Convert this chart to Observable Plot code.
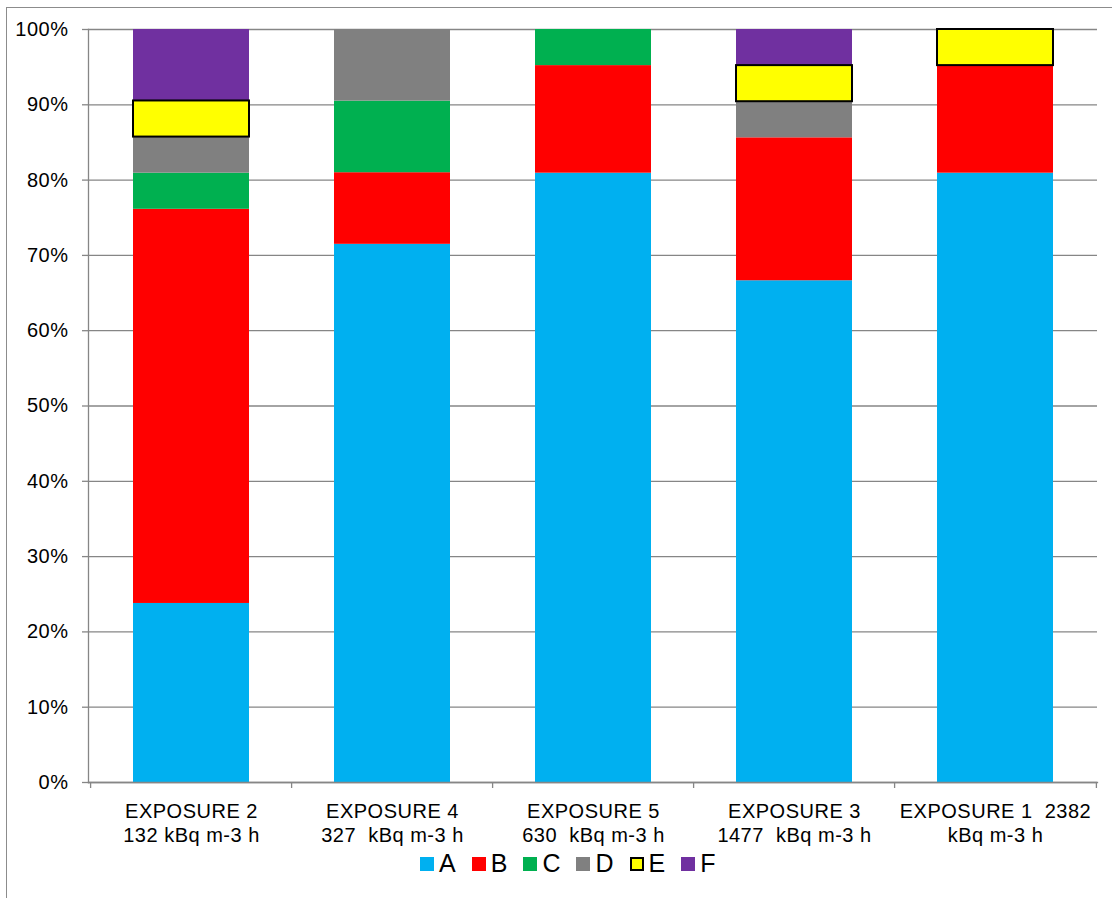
<!DOCTYPE html>
<html>
<head>
<meta charset="utf-8">
<script src="https://cdn.jsdelivr.net/npm/d3@7"></script>
<script src="https://cdn.jsdelivr.net/npm/@observablehq/plot@0.6"></script>
<style>
  html, body { margin: 0; padding: 0; background: #fff; }
  body { font-family: "Liberation Sans", Arial, sans-serif; width: 1112px; height: 898px; position: relative; overflow: hidden; }
  #frame { position: absolute; left: 6px; top: 7px; width: 1200px; height: 950px; border: 1px solid #8c8c8c; box-sizing: border-box; pointer-events: none; }
  #chart { position: absolute; left: 0; top: 0; }
  #chart svg { overflow: visible; white-space: pre; }
  #legend { position: absolute; top: 849px; left: 420px; display: flex; align-items: center; font-size: 25px; color: #000; }
  .item { display: flex; align-items: center; margin-right: 16px; }
  .sw { width: 14px; height: 14px; margin-right: 5px; box-sizing: border-box; }
</style>
</head>
<body>
<div id="chart"></div>
<div id="legend"></div>
<div id="frame"></div>
<script>
// Categories (x axis) and their two-line tick labels
const categories = ["EXPOSURE 2", "EXPOSURE 4", "EXPOSURE 5", "EXPOSURE 3", "EXPOSURE 1"];
const tickLabels = [
  "EXPOSURE 2\n132 kBq m-3 h",
  "EXPOSURE 4\n327  kBq m-3 h",
  "EXPOSURE 5\n630  kBq m-3 h",
  "EXPOSURE 3\n1477  kBq m-3 h",
  "EXPOSURE 1  2382\nkBq m-3 h"
];
// Series (stack order bottom to top) and their colours
const series = ["A", "B", "C", "D", "E", "F"];
const seriesColors = ["#00B0F0", "#FF0000", "#00B050", "#808080", "#FFFF00", "#7030A0"];
// Percent values per series, in category order
const valuesA = [23.8, 71.4, 81.0, 66.7, 81.0];
const valuesB = [52.4, 9.5, 14.3, 19.0, 14.3];
const valuesC = [4.8, 9.5, 4.8, 0, 0];
const valuesD = [4.8, 9.5, 0, 4.8, 0];
const valuesE = [4.8, 0, 0, 4.8, 4.8];
const valuesF = [9.5, 0, 0, 4.8, 0];
const yTicks = [0, 0.1, 0.2, 0.3, 0.4, 0.5, 0.6, 0.7, 0.8, 0.9, 1.0];

const allValues = [valuesA, valuesB, valuesC, valuesD, valuesE, valuesF];
const data = [];
series.forEach((s, si) => {
  categories.forEach((c, ci) => {
    const v = allValues[si][ci];
    if (v > 0) data.push({category: c, series: s, value: v});
  });
});
const labelOf = new Map(categories.map((c, i) => [c, tickLabels[i]]));

const W = 1112, H = 845;
const mL = 88, mR = 15, mT = 29, mB = 63;
const step = (W - mL - mR) / categories.length;
const grey = "#868686";
const font = "Liberation Sans, Arial, sans-serif";

const stackOpts = {x: "category", y: "value", order: null, offset: "normalize"};

const chart = Plot.plot({
  width: W,
  height: H,
  marginLeft: mL,
  marginRight: mR,
  marginTop: mT,
  marginBottom: mB,
  style: {fontFamily: font, background: "transparent", color: "#000"},
  x: {domain: categories, paddingInner: 0.425, paddingOuter: 0.2125, axis: null, label: null},
  y: {domain: [0, 1], axis: null, label: null},
  color: {domain: series, range: seriesColors},
  marks: [
    Plot.gridY(yTicks, {stroke: grey, strokeOpacity: 1, strokeWidth: 1.3}),
    Plot.barY(data, Plot.stackY({...stackOpts, fill: "series"})),
    Plot.barY(data, Plot.stackY({...stackOpts, fill: "none", stroke: "#000", strokeWidth: 2,
      strokeOpacity: d => d.series === "E" ? 1 : 0})),
    Plot.frame({anchor: "left", stroke: grey, strokeWidth: 1.3}),
    Plot.frame({anchor: "bottom", stroke: grey, strokeWidth: 1.3}),
    // y ticks and labels
    Plot.axisY({ticks: yTicks, tickSize: 6, tickFormat: () => "", label: null, stroke: grey, strokeWidth: 1.3}),
    Plot.axisY({ticks: yTicks, tickSize: 0, tickPadding: 20, tickFormat: d3.format(".0%"), label: null,
      fontSize: 20, fill: "#000", style: {letterSpacing: "0.3px"}}),
    // category boundary ticks
    Plot.axisX({tickSize: 6, tickFormat: () => "", label: null, dx: -step / 2, stroke: grey, strokeWidth: 1.3}),
    Plot.axisX({ticks: [categories[categories.length - 1]], tickSize: 6, tickFormat: () => "", label: null,
      dx: step / 2, stroke: grey, strokeWidth: 1.3}),
    // category labels
    Plot.text(categories, {x: d => d, frameAnchor: "bottom", dy: 19, lineAnchor: "top",
      text: d => labelOf.get(d), fontSize: 20, lineHeight: 1.17, fill: "#000",
      style: {letterSpacing: "0.7px"}})
  ]
});
chart.querySelectorAll("text").forEach(t => {
  if (t.closest("g") && t.closest("g").getAttribute("font-size") === "20") t.style.letterSpacing = "0.5px";
});
document.getElementById("chart").appendChild(chart);

// Legend
const legend = document.getElementById("legend");
series.forEach((s, i) => {
  const item = document.createElement("div");
  item.className = "item";
  const sw = document.createElement("div");
  sw.className = "sw";
  sw.style.background = seriesColors[i];
  if (s === "E") sw.style.border = "2px solid #000";
  const t = document.createElement("span");
  t.textContent = s;
  item.appendChild(sw);
  item.appendChild(t);
  legend.appendChild(item);
});
</script>
</body>
</html>
